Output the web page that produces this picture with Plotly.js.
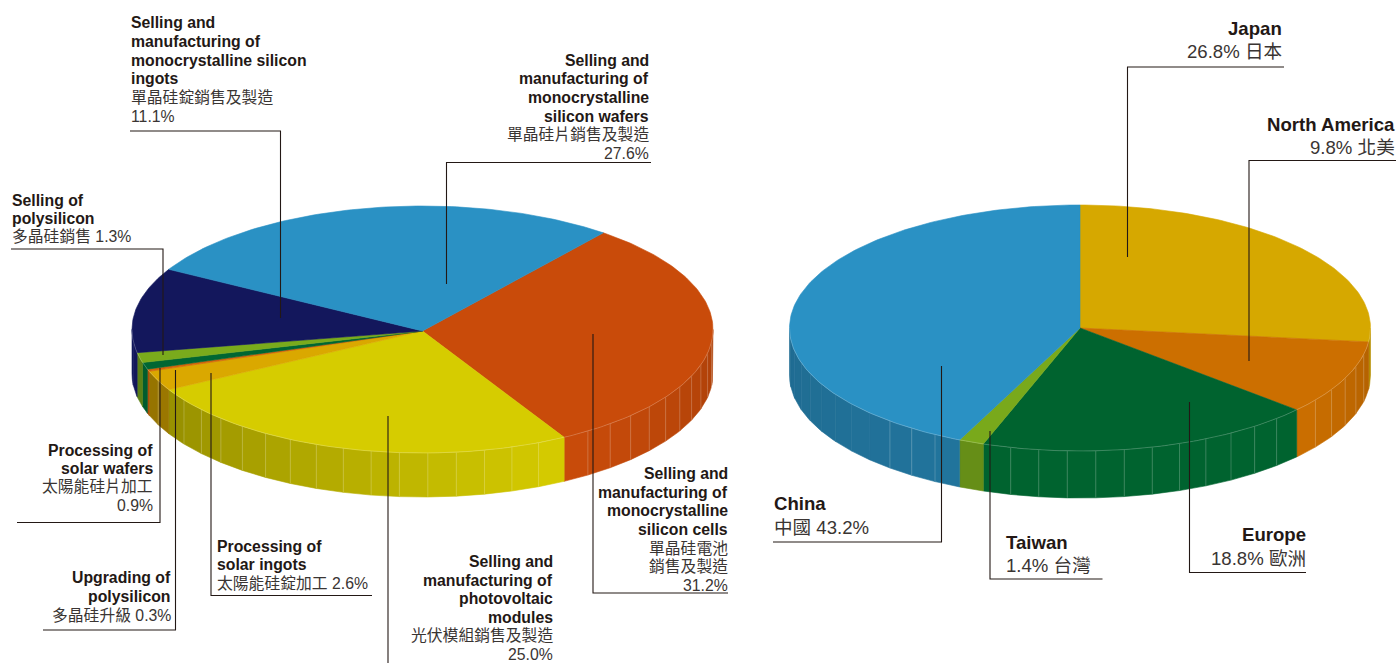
<!DOCTYPE html>
<html><head><meta charset="utf-8">
<script src="https://cdn.plot.ly/plotly-3.0.1.min.js"></script>
<style>html,body{margin:0;padding:0;background:#fff}#c{width:1399px;height:663px}</style>
</head><body><div id="c"></div>
<script>
// ---------- data ----------
const productNames = ["Selling and manufacturing of monocrystalline silicon cells","Selling and manufacturing of photovoltaic modules","Processing of solar ingots","Upgrading of polysilicon","Processing of solar wafers","Selling of polysilicon","Selling and manufacturing of monocrystalline silicon ingots","Selling and manufacturing of monocrystalline silicon wafers"];
const productShares = [31.2,25.0,2.6,0.3,0.9,1.3,11.1,27.6];
const productColors = ["#C94B0A","#D6CC00","#DAA800","#D2640A","#006633","#7AAB1C","#13175C","#2A91C4"];
const productWallShade = [[1,.86],[.7,1],[.68,.72],[.8,.8],[.9,.9],[.74,.74],[1,1],[1,1]];
const productSepFrom = [-180,-180,-180,-180,-180,-180,0,0];
const regionNames = ["Japan","North America","Europe","Taiwan","China"];
const regionShares = [26.8,9.8,18.8,1.4,43.2];
const regionColors = ["#D6A800","#CC6F00","#00632F","#79A91B","#2A91C4"];
const regionWallShade = [[.85,.85],[1,.88],[1,1],[.84,.84],[.74,.8]];
const regionSepFrom = [0,-180,-180,-180,-135];

const labelRows = [
 {x:130,a:"left",s:15.8,y:[22,41,60,78,97,116],t:["<b>Selling and</b>","<b>manufacturing of</b>","<b>monocrystalline silicon</b>","<b>ingots</b>","單晶硅錠銷售及製造","11.1%"]},
 {x:650,a:"right",s:15.8,y:[60,78,97,116,134,153],t:["<b>Selling and</b>","<b>manufacturing of</b>","<b>monocrystalline</b>","<b>silicon wafers</b>","單晶硅片銷售及製造","27.6%"]},
 {x:11,a:"left",s:15.8,y:[200,218.5,236],t:["<b>Selling of</b>","<b>polysilicon</b>","多晶硅銷售 1.3%"]},
 {x:153.5,a:"right",s:15.8,y:[450,468,486,505],t:["<b>Processing of</b>","<b>solar wafers</b>","太陽能硅片加工","0.9%"]},
 {x:171.5,a:"right",s:15.8,y:[577,596,615],t:["<b>Upgrading of</b>","<b>polysilicon</b>","多晶硅升級 0.3%"]},
 {x:216,a:"left",s:15.8,y:[546,564,583],t:["<b>Processing of</b>","<b>solar ingots</b>","太陽能硅錠加工 2.6%"]},
 {x:554,a:"right",s:15.8,y:[561,580,598,617,635,654],t:["<b>Selling and</b>","<b>manufacturing of</b>","<b>photovoltaic</b>","<b>modules</b>","光伏模組銷售及製造","25.0%"]},
 {x:729,a:"right",s:15.8,y:[473,492,510,529,548,566,585],t:["<b>Selling and</b>","<b>manufacturing of</b>","<b>monocrystalline</b>","<b>silicon cells</b>","單晶硅電池","銷售及製造","31.2%"]},
 {x:1283,a:"right",s:18.6,y:[28,51],t:["<b>Japan</b>","26.8% 日本"]},
 {x:1396,a:"right",s:18.6,y:[124,147],t:["<b>North America</b>","9.8% 北美"]},
 {x:772.5,a:"left",s:18.6,y:[503,527],t:["<b>China</b>","中國 43.2%"]},
 {x:1004.5,a:"left",s:18.6,y:[542,565],t:["<b>Taiwan</b>","1.4% 台灣"]},
 {x:1307,a:"right",s:18.6,y:[534,558],t:["<b>Europe</b>","18.8% 歐洲"]}
];
const leaderPaths = [
 [[130,131],[280.5,131],[280.5,318]],
 [[651,162.5],[446.5,162.5],[446.5,284]],
 [[11,249],[163,249],[163,355]],
 [[17,522.5],[160,522.5],[160,368]],
 [[43,630],[175.5,630],[175.5,370]],
 [[372,595.5],[211,595.5],[211,373]],
 [[388,663],[388,416]],
 [[728,593],[593,593],[593,334]],
 [[1284,67],[1127.5,67],[1127.5,257]],
 [[1396,160.5],[1249,160.5],[1249,361]],
 [[1306,572.5],[1189.5,572.5],[1189.5,402]],
 [[1102.5,579],[990,579],[990,431]],
 [[773,542],[941.5,542],[941.5,366]]
];

// ---------- drawing ----------
const FONT = '"Liberation Sans","Noto Sans CJK TC",Arial,sans-serif';
const traces = [];
function shadeColor(hex,f){
  const n=parseInt(hex.slice(1),16);
  const c=[n>>16&255,n>>8&255,n&255].map(v=>Math.round(v*f));
  return `rgb(${c[0]},${c[1]},${c[2]})`;
}
function poly(xs,ys,color,name){
  traces.push({type:"scatter",mode:"lines",x:xs,y:ys,fill:"toself",fillcolor:color,
    line:{color:color,width:0.6},hoverinfo:"skip",name:name,showlegend:false});
}
function drawPie(names,shares,colors,wallShade,sepFrom,g,startDeg){
  const px=t=>g.cx+g.rx*Math.cos(t*Math.PI/180);
  const py=t=>g.cy-g.ry*Math.sin(t*Math.PI/180);
  const total=shares.reduce((a,b)=>a+b,0);
  let a=startDeg; const spans=[];
  shares.forEach(v=>{const b=a-v/total*360;spans.push([a,b]);a=b;});
  const sepX=[],sepY=[];
  spans.forEach((sp,i)=>{
    [0,-360].forEach(off=>{
      const hi=Math.min(sp[0]+off,0), lo=Math.max(sp[1]+off,-180);
      if(hi<=lo) return;
      const n=Math.max(1,Math.round((hi-lo)/g.facet));
      for(let k=0;k<n;k++){
        const t1=lo+(hi-lo)*k/n, t2=lo+(hi-lo)*(k+1)/n;
        const xs=[],ys=[],rx=[],ry=[];
        for(let j=0;j<=6;j++){const t=t1+(t2-t1)*j/6;xs.push(px(t));ys.push(py(t));rx.unshift(px(t));ry.unshift(py(t)+g.depth);}
        const f=wallShade[i][0]+(wallShade[i][1]-wallShade[i][0])*((k+.5)/n);
        poly(xs.concat(rx,[xs[0]]),ys.concat(ry,[ys[0]]),shadeColor(colors[i],f),names[i]+" wall");
        if(k>0&&t1>=sepFrom[i]){sepX.push(px(t1),px(t1),null);sepY.push(py(t1),py(t1)+g.depth,null);}
      }
    });
  });
  traces.push({type:"scatter",mode:"lines",x:sepX,y:sepY,line:{color:"rgba(255,255,255,0.2)",width:1},hoverinfo:"skip",showlegend:false});
  spans.forEach((sp,i)=>{
    const xs=[g.cx],ys=[g.ay];
    const n=Math.max(2,Math.ceil(sp[0]-sp[1]));
    for(let j=0;j<=n;j++){const t=sp[0]+(sp[1]-sp[0])*j/n;xs.push(px(t));ys.push(py(t));}
    xs.push(g.cx);ys.push(g.ay);
    poly(xs,ys,colors[i],names[i]);
  });
  const rimX=[],rimY=[];
  for(let t=-180;t<=0;t++){rimX.push(px(t));rimY.push(py(t));}
  traces.push({type:"scatter",mode:"lines",x:rimX,y:rimY,line:{color:"rgba(255,255,255,0.3)",width:0.7},hoverinfo:"skip",showlegend:false});
}
drawPie(productNames,productShares,productColors,productWallShade,productSepFrom,{cx:422.5,cy:329.5,ay:331,rx:290.5,ry:123.5,depth:44,facet:5.5},51.5);
drawPie(regionNames,regionShares,regionColors,regionWallShade,regionSepFrom,{cx:1080,cy:328,ay:328,rx:290.5,ry:123,depth:47,facet:5.5},90);

const annotations=[];
labelRows.forEach(L=>L.t.forEach((txt,i)=>{
  const bold=txt.startsWith("<b>");
  annotations.push({xref:"x",yref:"y",x:L.x,y:L.y[i],text:txt,showarrow:false,xanchor:L.a,yanchor:"middle",borderpad:0,
    font:{family:FONT,size:L.s,color:bold?"#231815":"#3a3533"}});
}));
const shapes=leaderPaths.map(p=>({type:"path",xref:"x",yref:"y",layer:"above",
  path:p.map((q,i)=>(i?"L":"M")+q[0]+" "+q[1]).join(" "),line:{color:"#231815",width:1.1}}));

Plotly.newPlot("c",traces,{
  width:1399,height:663,margin:{l:0,r:0,t:0,b:0},paper_bgcolor:"#fff",plot_bgcolor:"#fff",showlegend:false,
  xaxis:{range:[0,1399],visible:false,fixedrange:true},
  yaxis:{range:[663,0],visible:false,fixedrange:true},
  annotations:annotations,shapes:shapes,hovermode:false
},{displayModeBar:false,staticPlot:true});
</script></body></html>
